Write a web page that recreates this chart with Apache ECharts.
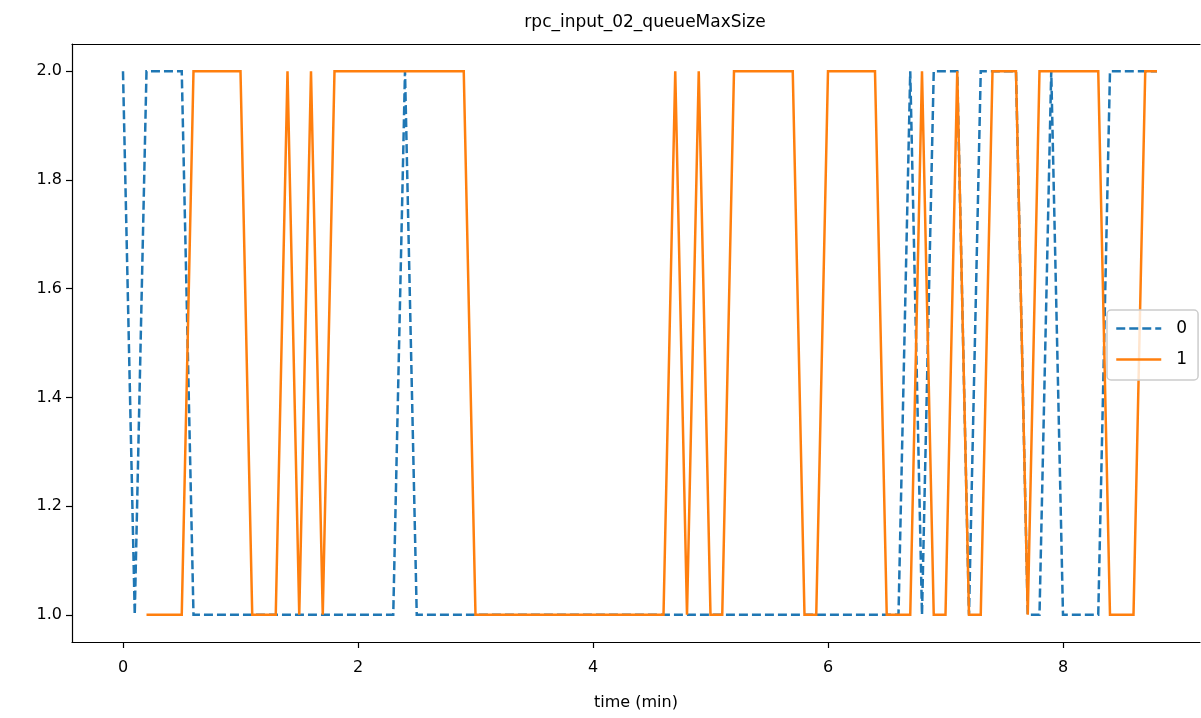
<!DOCTYPE html>
<html>
<head>
<meta charset="utf-8">
<script src="https://cdn.jsdelivr.net/npm/echarts@6/dist/echarts.min.js"></script>
<style>
html,body{margin:0;padding:0;background:#fff;}
#chart{width:1201px;height:718px;}
</style>
</head>
<body>
<div id="chart"></div>
<script>
// time (min)
var times = [0.0,0.1,0.2,0.3,0.4,0.5,0.6,0.7,0.8,0.9,
  1.0,1.1,1.2,1.3,1.4,1.5,1.6,1.7,1.8,1.9,
  2.0,2.1,2.2,2.3,2.4,2.5,2.6,2.7,2.8,2.9,
  3.0,3.1,3.2,3.3,3.4,3.5,3.6,3.7,3.8,3.9,
  4.0,4.1,4.2,4.3,4.4,4.5,4.6,4.7,4.8,4.9,
  5.0,5.1,5.2,5.3,5.4,5.5,5.6,5.7,5.8,5.9,
  6.0,6.1,6.2,6.3,6.4,6.5,6.6,6.7,6.8,6.9,
  7.0,7.1,7.2,7.3,7.4,7.5,7.6,7.7,7.8,7.9,
  8.0,8.1,8.2,8.3,8.4,8.5,8.6,8.7,8.8];

// series "0"
var series0 = [2,1,2,2,2,2,1,1,1,1,
  1,1,1,1,1,1,1,1,1,1,
  1,1,1,1,2,1,1,1,1,1,
  1,1,1,1,1,1,1,1,1,1,
  1,1,1,1,1,1,1,1,1,1,
  1,1,1,1,1,1,1,1,1,1,
  1,1,1,1,1,1,1,2,1,2,
  2,2,1,2,2,2,2,1,1,2,
  1,1,1,1,2,2,2,2,2];

// series "1"
var series1 = [null,null,1,1,1,1,2,2,2,2,
  2,1,1,1,2,1,2,1,2,2,
  2,2,2,2,2,2,2,2,2,2,
  1,1,1,1,1,1,1,1,1,1,
  1,1,1,1,1,1,1,2,1,2,
  1,1,2,2,2,2,2,2,1,1,
  2,2,2,2,2,1,1,1,2,1,
  1,2,1,1,2,2,2,1,2,2,
  2,2,2,2,1,1,1,2,2];

var seriesNames = ['0','1'];
var xTicks = [0,2,4,6,8];
var yTicks = [1.0,1.2,1.4,1.6,1.8,2.0];

function pairs(vals){
  var out = [];
  for (var i = 0; i < times.length; i++) {
    out.push([times[i], vals[i] === null ? null : vals[i]]);
  }
  return out;
}

var font = 'DejaVu Sans';
var chart = echarts.init(document.getElementById('chart'), null, {renderer:'canvas'});
chart.setOption({
  animation: false,
  backgroundColor: '#fff',
  title: {
    text: 'rpc_input_02_queueMaxSize',
    left: 640, top: 9, textAlign: 'center',
    textStyle: {fontFamily: font, fontSize: 17, fontWeight: 'normal', color: '#000'}
  },
  legend: {
    orient: 'vertical',
    left: 1107, top: 310,
    backgroundColor: 'rgba(255,255,255,0.8)',
    borderColor: '#cccccc', borderWidth: 1.5, borderRadius: 4,
    padding: [10, 11, 12, 8],
    itemWidth: 45, itemHeight: 14, itemGap: 14,
    itemStyle: {opacity: 0},
    lineStyle: {width: 2.5},
    textStyle: {fontFamily: font, fontSize: 17, color: '#000', padding: [0, 0, 0, 10]},
    data: seriesNames
  },
  grid: {
    left: 72, top: 44, width: 1128, height: 598,
    show: false, containLabel: false
  },
  xAxis: [{
    type: 'value', min: -0.434, max: 9.166,
    name: 'time (min)', nameLocation: 'middle', nameGap: 53,
    nameTextStyle: {fontFamily: font, fontSize: 16, color: '#000'},
    axisLine: {show: true, onZero: false, lineStyle: {color: '#000', width: 1.2}},
    axisTick: {show: true, length: 6, lineStyle: {color: '#000', width: 1.2}, customValues: xTicks},
    axisLabel: {fontFamily: font, fontSize: 16, color: '#000', margin: 18, customValues: xTicks,
      formatter: function(v){ return String(v); }},
    splitLine: {show: false}
  }, {
    type: 'value', min: -0.434, max: 9.166, position: 'top',
    axisLine: {show: true, onZero: false, lineStyle: {color: '#000', width: 1.2}},
    axisTick: {show: false}, axisLabel: {show: false}, splitLine: {show: false}
  }],
  yAxis: {
    type: 'value', min: 0.95, max: 2.05,
    axisLine: {show: true, onZero: false, lineStyle: {color: '#000', width: 1.2}},
    axisTick: {show: true, length: 6, lineStyle: {color: '#000', width: 1.2}, customValues: yTicks},
    axisLabel: {fontFamily: font, fontSize: 16, color: '#000', margin: 10, customValues: yTicks,
      formatter: function(v){ return v.toFixed(1); }},
    splitLine: {show: false}
  },
  series: [
    {
      name: seriesNames[0], type: 'line', data: pairs(series0),
      showSymbol: false, symbol: 'none', connectNulls: false,
      lineStyle: {color: '#1f77b4', width: 2.5, type: [9, 4], cap: 'butt', join: 'miter'},
      itemStyle: {color: '#1f77b4'}, z: 2
    },
    {
      name: seriesNames[1], type: 'line', data: pairs(series1),
      showSymbol: false, symbol: 'none', connectNulls: false,
      lineStyle: {color: '#ff7f0e', width: 2.5, type: 'solid', cap: 'butt', join: 'miter'},
      itemStyle: {color: '#ff7f0e'}, z: 3
    }
  ]
});
</script>
</body>
</html>
